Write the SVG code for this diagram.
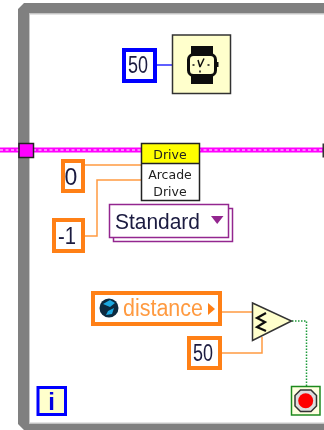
<svg xmlns="http://www.w3.org/2000/svg" width="324" height="430" viewBox="0 0 324 430">
<defs><filter id="soft" x="0" y="0" width="100%" height="100%"><feGaussianBlur stdDeviation="0.4"/></filter></defs>
<style>
text{font-family:"Liberation Sans",Arial,sans-serif;text-anchor:middle}
.num{font-size:23px;fill:#1a1a40}
.o{fill:#fff;stroke:#ff8019;stroke-width:4}
.ow{fill:none;stroke:#ff9a40;stroke-width:1.500}
.dr{font-family:"DejaVu Sans",sans-serif;font-size:12.500px;fill:#222}
</style>
<g filter="url(#soft)">
<rect width="324" height="430" fill="#fff"/>
<path d="M324 3H24L18 9V424L24 430H324V423.500H29V13.500H324Z" fill="#808080"/>
<path d="M324 14H29.500V423H324" fill="none" stroke="#c8c8c8" stroke-width="1"/>
<g id="connectors">
<path d="M156 65H173" stroke="#2a2aff" stroke-width="1.500" fill="none"/>
<path d="M0 150H324" stroke="#ff00ff" stroke-width="5" fill="none"/>
<path d="M0 150H324" stroke="#fff" stroke-width="1.200" stroke-dasharray="3 2.500" fill="none"/>
<path class="ow" d="M84 165H141"/>
<path class="ow" d="M84 236H97V180H141"/>
<path class="ow" d="M221 312H252"/>
<path class="ow" d="M221 353H262V337"/>
<path d="M292 321H306.500V386" fill="none" stroke="#1f9a3a" stroke-width="1.500" stroke-dasharray="1.500 1.500"/>
</g>
<g id="loop-tunnel"><rect x="19" y="143.500" width="14.500" height="14" fill="#ff00ff" stroke="#222" stroke-width="1.500"/></g>
<g id="right-tunnel"><rect x="322.500" y="143.500" width="4" height="14" fill="#333"/></g>
<g id="wait-const"><rect x="124" y="50" width="31" height="31" fill="#fff" stroke="#0000ff" stroke-width="4"/><text class="num" x="138" y="73" textLength="20" lengthAdjust="spacingAndGlyphs">50</text></g>
<g id="wait"><rect x="172.500" y="35" width="58" height="58.500" fill="#ffffcc" stroke="#333" stroke-width="1.500"/>
<path d="M191 46H213V54H191ZM191 76H213V84H191Z" fill="#111"/>
<rect x="188.500" y="54.500" width="27" height="21" rx="5" fill="#ffffcc" stroke="#111" stroke-width="3"/>
<rect x="216" y="62" width="2.500" height="5" fill="#111"/>
<path d="M200 67L204 58.500M200 67L198 60" fill="none" stroke="#111" stroke-width="1.500"/>
<path d="M192.500 65h2M207.500 65h2M200 70.500v2" stroke="#111" stroke-width="1.500"/></g>
<g id="arcade-drive"><rect x="141.500" y="143.500" width="58" height="20" fill="#ffff00"/><rect x="141.500" y="163.500" width="58" height="37" fill="#fff"/><rect x="141.500" y="143.500" width="58" height="57" fill="none" stroke="#222" stroke-width="1.500"/><path d="M141.500 163.500H199.500" stroke="#222" stroke-width="1.500"/>
<text class="dr" x="170" y="159">Drive</text><text class="dr" x="170" y="179">Arcade</text><text class="dr" x="170" y="196">Drive</text></g>
<g id="const-0"><rect x="63" y="161" width="20" height="30" class="o"/><text class="num" x="71" y="185">0</text></g>
<g id="const-m1"><rect x="54" y="220" width="29" height="31" class="o"/><text class="num" x="67" y="244" textLength="18" lengthAdjust="spacingAndGlyphs">-1</text></g>
<g id="standard"><rect x="113.500" y="208.500" width="119" height="33" fill="#fff" stroke="#93278f" stroke-width="1.500"/><rect x="109.500" y="204.500" width="119" height="33" fill="#fff" stroke="#93278f" stroke-width="1.500"/>
<text x="157.500" y="229" font-size="22" fill="#1a1a40" textLength="85" lengthAdjust="spacingAndGlyphs">Standard</text><path d="M211 216H223.500L217.200 224Z" fill="#93278f"/></g>
<g id="distance"><rect x="93" y="293" width="127" height="31" class="o"/><circle cx="109" cy="308" r="9.500" fill="#0a2a40"/><path d="M103 304L110 300L115 303L110 307ZM108 311L114 308L112 314L106 315Z" fill="#1ea8e0"/>
<text x="163" y="316" font-size="23" fill="#ff9a40" textLength="80" lengthAdjust="spacingAndGlyphs">distance</text><path d="M208 303L215 309L208 315Z" fill="#ff8019"/></g>
<g id="const-50b"><rect x="189" y="338" width="31" height="30" class="o"/><text class="num" x="203" y="361" textLength="20" lengthAdjust="spacingAndGlyphs">50</text></g>
<g id="compare"><path d="M252.500 303L291.500 321L252.500 340.500Z" fill="#ffffcc" stroke="#333" stroke-width="1.500"/><path d="M266 313L257 318L265 322L257 327L266 331" fill="none" stroke="#111" stroke-width="2.200"/></g>
<g id="iter"><rect x="38" y="387.500" width="27.500" height="27" fill="#ffffcc" stroke="#0000ff" stroke-width="3"/><text x="51.500" y="410" font-size="24" font-weight="bold" fill="#0000e0">i</text></g>
<g id="stop"><rect x="291.500" y="386.500" width="28.500" height="28.500" fill="#ffffe0" stroke="#1f8a1f" stroke-width="1.500"/><path d="M300.500 390H311L316.500 395.500V406L311 411.500H300.500L295 406V395.500Z" fill="#ddd" stroke="#333" stroke-width="1.500"/><circle cx="305.700" cy="400.700" r="7.500" fill="#ff0000"/></g>
</g>
</svg>
